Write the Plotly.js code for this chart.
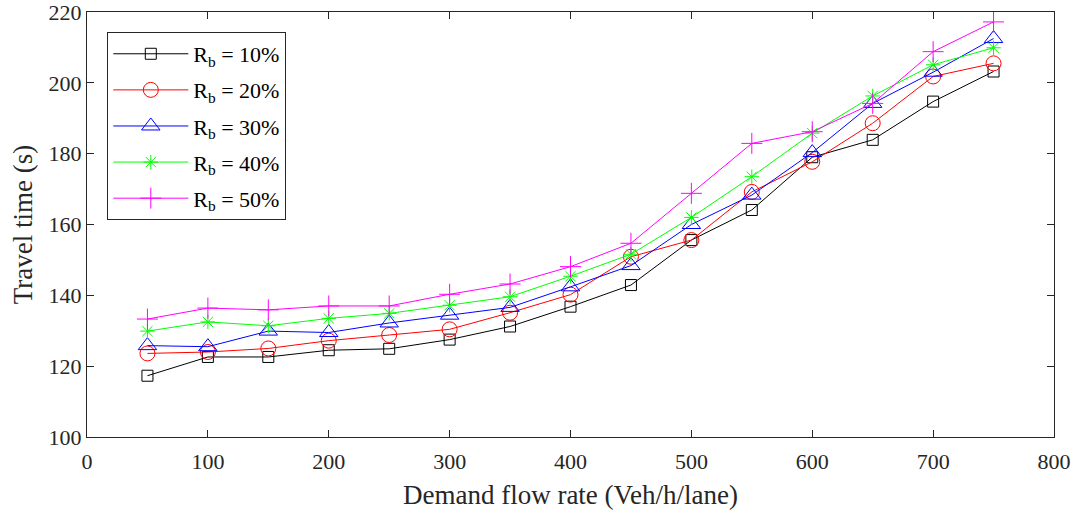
<!DOCTYPE html>
<html>
<head>
<meta charset="utf-8">
<script src="https://cdn.plot.ly/plotly-3.0.1.min.js"></script>
<style>html,body{margin:0;padding:0;background:#fff;}#chart{width:1076px;height:514px;}</style>
</head>
<body>
<div id="chart"></div>
<script>
const demand = [50,100,150,200,250,300,350,400,450,500,550,600,650,700,750];
const rb10 = [117.3,122.6,122.6,124.5,124.9,127.5,131.2,136.8,142.9,155.6,164.1,179.0,183.9,194.7,203.2];
const rb20 = [123.6,124.0,125.0,127.2,128.8,130.4,135.1,140.2,150.9,155.6,169.2,177.7,188.6,201.8,205.5];
const rb30 = [125.8,125.5,129.9,129.5,132.2,134.4,136.6,142.4,148.4,160.0,168.3,180.3,194.2,203.0,212.5];
const rb40 = [129.9,132.5,131.4,133.5,134.9,137.2,139.6,145.4,151.6,162.0,173.5,185.8,196.3,205.1,209.9];
const rb50 = [133.3,136.4,135.9,137.0,137.0,140.3,143.2,148.1,154.7,168.8,182.9,186.2,194.2,208.8,217.2];
const names = ['R<sub>b</sub> = 10%','R<sub>b</sub> = 20%','R<sub>b</sub> = 30%','R<sub>b</sub> = 40%','R<sub>b</sub> = 50%'];
const xTicks = [0,100,200,300,400,500,600,700,800];
const yTicks = [100,120,140,160,180,200,220];

const series = [rb10, rb20, rb30, rb40, rb50];
const colors = ['#000000','#ff0000','#0000ff','#00ff00','#ff00ff'];
const symbols = ['square-open','circle-open','triangle-up-open','asterisk-open','cross-thin-open'];
const sizes = [11,15,16,12,15];

const traces = series.map((s,i)=>({
  x: demand, y: s, name: names[i], legendgroup:'g'+i, type:'scatter', mode:'lines+markers',
  line:{color:colors[i], width:1},
  marker:{symbol:symbols[i], size:sizes[i], color:colors[i], line:{color:colors[i], width:1}}
}));

const fam = '"Liberation Serif","Times New Roman",serif';
const ink = '#262626';
const layout = {
  width:1076, height:514,
  margin:{l:87, r:22, t:12, b:77},
  paper_bgcolor:'#fff', plot_bgcolor:'#fff',
  font:{family:fam, color:ink},
  showlegend:true,
  legend:{x:0.021, y:0.953, xanchor:'left', yanchor:'top', bgcolor:'#fff', bordercolor:ink, borderwidth:1,
    tracegroupgap:4.5, itemwidth:75,
    font:{family:fam, size:22, color:'#000'}},
  xaxis:{range:[0,800], tickvals:xTicks, ticks:'inside', ticklen:7, tickcolor:ink, showgrid:false, zeroline:false,
    showline:true, mirror:'ticks', linecolor:ink, linewidth:1, tickfont:{size:22, family:fam, color:ink},
    ticklabelstandoff:5, ticklabeloverflow:'allow',
    title:{text:'Demand flow rate (Veh/h/lane)', font:{size:27, family:fam, color:ink}, standoff:11}},
  yaxis:{range:[100,220], tickvals:yTicks, ticks:'inside', ticklen:7, tickcolor:ink, showgrid:false, zeroline:false,
    showline:true, mirror:'ticks', linecolor:ink, linewidth:1, tickfont:{size:22, family:fam, color:ink},
    ticklabeloverflow:'allow',
    title:{text:'Travel time (s)', font:{size:27, family:fam, color:ink}, standoff:8}}
};
Plotly.newPlot('chart', traces, layout, {displayModeBar:false, staticPlot:true});
</script>
</body>
</html>
